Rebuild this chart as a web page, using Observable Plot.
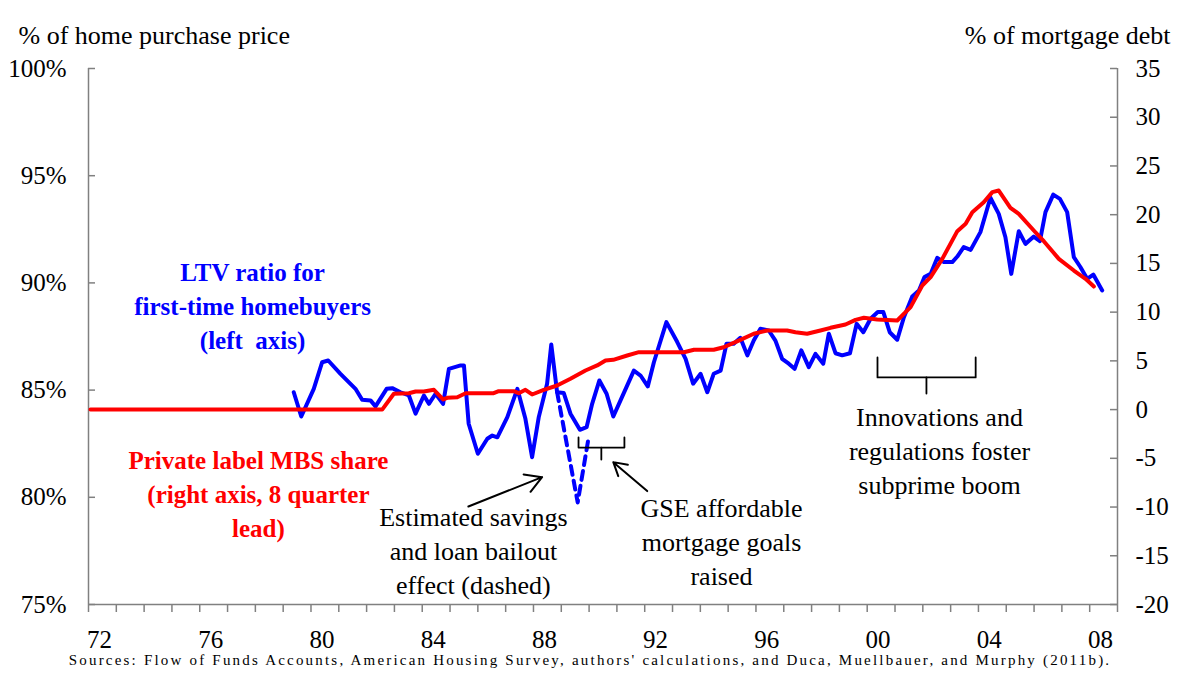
<!DOCTYPE html>
<html><head><meta charset="utf-8">
<script src="https://cdn.jsdelivr.net/npm/d3@7"></script>
<script src="https://cdn.jsdelivr.net/npm/@observablehq/plot@0.6"></script>
<style>body{margin:0;background:#fff;}</style>
</head><body><div id="chart"></div>
<script>
// LTV ratio for first-time homebuyers (left axis, %)
const ltvYear = [1978.88,1979.15,1979.60,1979.90,1980.12,1980.56,1981.10,1981.34,1981.64,1981.82,1982.22,1982.42,1982.72,1983.02,1983.26,1983.56,1983.74,1983.98,1984.25,1984.46,1984.88,1985.00,1985.17,1985.50,1985.84,1986.02,1986.20,1986.56,1986.92,1987.21,1987.45,1987.69,1987.99,1988.14,1988.35,1988.59,1988.83,1989.17,1989.41,1989.61,1989.87,1990.13,1990.37,1990.63,1991.11,1991.35,1991.61,1991.83,1992.28,1992.67,1992.97,1993.24,1993.51,1993.75,1993.98,1994.23,1994.44,1994.70,1994.94,1995.19,1995.42,1995.66,1995.96,1996.20,1996.44,1996.68,1996.89,1997.13,1997.40,1997.64,1997.92,1998.12,1998.36,1998.60,1998.88,1999.12,1999.36,1999.62,1999.88,2000.08,2000.31,2000.58,2000.82,2001.12,2001.36,2001.56,2001.78,2002.02,2002.26,2002.56,2002.74,2002.97,2003.22,2003.57,2003.93,2004.23,2004.47,2004.68,2004.95,2005.19,2005.49,2005.71,2005.91,2006.19,2006.43,2006.69,2006.93,2007.17,2007.41,2007.63,2007.95];
const ltvValue = [84.90,83.77,85.06,86.30,86.38,85.76,85.06,84.55,84.52,84.24,85.06,85.09,84.90,84.75,83.90,84.75,84.36,84.83,84.36,85.99,86.15,86.15,83.43,82.03,82.73,82.88,82.80,83.74,85.06,83.66,81.87,83.74,85.30,87.13,84.90,84.86,83.90,83.15,83.27,84.36,85.45,84.83,83.77,84.52,85.91,85.68,85.17,86.30,88.17,87.24,86.46,85.30,85.76,84.90,85.76,85.91,87.16,87.16,87.44,86.62,87.31,87.86,87.78,87.31,86.46,86.23,85.99,86.85,86.07,86.69,86.23,87.63,86.72,86.62,86.72,88.09,87.70,88.33,88.64,88.64,87.70,87.35,88.40,89.37,89.65,90.27,90.42,91.17,90.97,90.97,91.23,91.67,91.54,92.37,93.97,93.22,92.13,90.42,92.41,91.82,92.16,91.95,93.30,94.12,93.92,93.30,91.20,90.73,90.19,90.39,89.65];

// Estimated savings and loan bailout effect (dashed, left axis)
const bailoutYear = [1988.35,1989.09,1989.49];
const bailoutValue = [84.90,79.76,82.84];

// Private label MBS share (right axis, % of mortgage debt, 8 quarter lead)
const mbsYear = [1971.57,1982.06,1982.48,1983.02,1983.26,1983.56,1983.92,1984.25,1984.40,1984.76,1985.06,1986.07,1986.25,1986.79,1986.97,1987.21,1987.45,1987.87,1988.35,1988.83,1989.37,1989.79,1990.09,1990.37,1990.87,1991.29,1992.91,1993.27,1993.98,1994.34,1994.94,1995.42,1995.90,1996.62,1996.92,1997.34,1997.82,1998.18,1998.72,1999.08,1999.38,1999.86,2000.58,2001.06,2001.48,2001.78,2002.20,2002.74,2003.04,2003.28,2003.69,2004.00,2004.23,2004.65,2004.95,2005.49,2005.85,2006.39,2006.93,2007.35,2007.65];
const mbsValue = [0,0,1.62,1.68,1.86,1.86,2.03,1.04,1.21,1.27,1.68,1.68,1.89,1.89,1.68,2.03,1.55,2.03,2.47,3.16,4.01,4.53,5.04,5.11,5.55,5.89,5.89,6.14,6.14,6.40,7.16,7.78,8.12,8.12,7.94,7.78,8.12,8.39,8.73,9.21,9.42,9.24,9.14,10.51,12.73,13.59,15.47,18.31,19.06,20.25,21.28,22.31,22.48,20.71,20.09,18.38,17.28,15.47,14.27,13.42,12.63];

const xTickYears = [1972,1976,1980,1984,1988,1992,1996,2000,2004,2008];
const leftTicks = [75,80,85,90,95,100];
const rightTicks = [-20,-15,-10,-5,0,5,10,15,20,25,30,35];

const leftTitle = "% of home purchase price";
const rightTitle = "% of mortgage debt";
const sourceText = "Sources: Flow of Funds Accounts, American Housing Survey, authors' calculations, and Duca, Muellbauer, and Murphy (2011b).";

// annotation texts (anchored in data units: year, left-axis %)
const seriesLabels = [
  {t:1977.4, v:88.99, text:"LTV ratio for\nfirst-time homebuyers\n(left  axis)", color:"#0000ff"},
  {t:1977.61, v:80.22, text:"Private label MBS share\n(right axis, 8 quarter\nlead)", color:"#ff0000"}
];
const notes = [
  {t:1985.34, v:77.57, text:"Estimated savings\nand loan bailout\neffect (dashed)"},
  {t:1994.26, v:77.99, text:"GSE affordable\nmortgage goals\nraised"},
  {t:2002.10, v:82.23, text:"Innovations and\nregulations foster\nsubprime boom"}
];
const arrows = [
  {t1:1985.16, v1:79.57, t2:1987.81, v2:80.94},
  {t1:1991.59, v1:80.29, t2:1990.37, v2:81.64}
];
const brackets = [
  {id:"g1", pts:[[1989.12,82.79],[1989.12,82.32],[1990.77,82.32],[1990.77,82.79]]},
  {id:"g2", pts:[[1989.94,82.32],[1989.94,81.76]]},
  {id:"i1", pts:[[1999.87,86.52],[1999.87,85.59],[2003.40,85.59],[2003.40,86.52]]},
  {id:"i2", pts:[[2001.63,85.59],[2001.63,84.84]]}
];

const LD = [75,100], RD = [-20,35];
const toLeft = r => LD[0] + (r - RD[0]) * (LD[1]-LD[0]) / (RD[1]-RD[0]);
const fromLeft = v => RD[0] + (v - LD[0]) * (RD[1]-RD[0]) / (LD[1]-LD[0]);

const ltv = ltvYear.map((t,i)=>({t, v:ltvValue[i]}));
const bailout = bailoutYear.map((t,i)=>({t, v:bailoutValue[i]}));
const mbs = mbsYear.map((t,i)=>({t, v:toLeft(mbsValue[i])}));
const bracketPts = brackets.flatMap(b => b.pts.map(p => ({id:b.id, t:p[0], v:p[1]})));

const W = 1182, H = 675, mL = 88, mR = 65, mT = 68, mB = 71;
const innerW = W - mL - mR;
const axisGray = "#808080";
const FONT = "'Liberation Serif','Times New Roman',serif";

const chart = Plot.plot({
  width: W, height: H,
  marginLeft: mL, marginRight: mR, marginTop: mT, marginBottom: mB,
  style: {fontFamily: FONT, fontSize: "25px", background: "#fff", color: "#000", overflow: "visible"},
  x: {domain: [1971.5, 2008.5]},
  y: {domain: LD},
  marks: [
    Plot.ruleX([1971.5, 2008.5], {stroke: axisGray, strokeWidth: 1.5}),
    Plot.ruleY([75], {stroke: axisGray, strokeWidth: 1.5}),
    Plot.tickY(leftTicks, {stroke: axisGray, strokeWidth: 1.5, insetRight: innerW - 7}),
    Plot.tickY(rightTicks.map(toLeft), {stroke: axisGray, strokeWidth: 1.5, insetLeft: innerW - 7}),
    Plot.axisY({ticks: leftTicks, tickSize: 0, tickPadding: 22, tickFormat: d => d + "%", fontSize: 25, fontFamily: FONT, label: null}),
    Plot.axisY({anchor: "right", ticks: rightTicks.map(toLeft), tickSize: 0, tickPadding: 18, tickFormat: d => String(Math.round(fromLeft(d))), fontSize: 25, fontFamily: FONT, label: null}),
    Plot.axisX({ticks: d3.range(1971.5, 2009, 1), tickSize: 8, tickFormat: () => "", stroke: axisGray, strokeWidth: 1.5, label: null}),
    Plot.axisX({ticks: xTickYears, tickSize: 0, tickPadding: 26, dx: -3, tickFormat: d => String(d % 100).padStart(2, "0"), fontSize: 25, fontFamily: FONT, label: null}),
    Plot.line(ltv, {x: "t", y: "v", stroke: "#0000ff", strokeWidth: 4}),
    Plot.line(bailout, {x: "t", y: "v", stroke: "#0000ff", strokeWidth: 4, strokeDasharray: "9,6"}),
    Plot.line(mbs, {x: "t", y: "v", stroke: "#ff0000", strokeWidth: 4}),
    Plot.line(bracketPts, {x: "t", y: "v", z: "id", stroke: "#000", strokeWidth: 1.8}),
    Plot.arrow(arrows, {x1: "t1", y1: "v1", x2: "t2", y2: "v2", stroke: "#000", strokeWidth: 2, headLength: 14}),
    Plot.text(seriesLabels, {x: "t", y: "v", text: "text", fill: "color", fontWeight: "bold", fontSize: 25, fontFamily: FONT, lineHeight: 1.36, textAnchor: "middle"}),
    Plot.text(notes, {x: "t", y: "v", text: "text", fill: "#000", fontSize: 26, fontFamily: FONT, lineHeight: 1.31, textAnchor: "middle"}),
    Plot.text([leftTitle], {frameAnchor: "top-left", dx: -70, dy: -43, textAnchor: "start", fontSize: 26, fontFamily: FONT}),
    Plot.text([rightTitle], {frameAnchor: "top-right", dx: 53, dy: -43, textAnchor: "end", fontSize: 26, fontFamily: FONT}),
    Plot.text([sourceText], {frameAnchor: "bottom", dx: -13, dy: 60, fontSize: 15, fontFamily: FONT})
  ]
});
document.getElementById("chart").appendChild(chart);
d3.select(chart).selectAll("text").filter(function(){ return this.textContent === sourceText; }).attr("letter-spacing", "2.2px");
</script>
</body></html>
